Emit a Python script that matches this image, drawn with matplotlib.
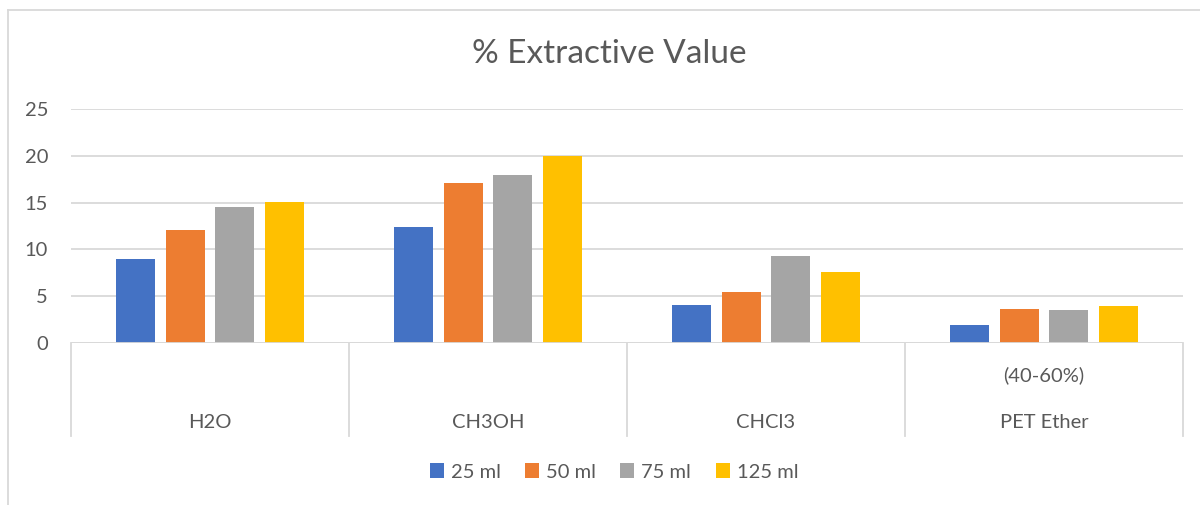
import numpy as np
import matplotlib
matplotlib.use("Agg")
import matplotlib.pyplot as plt
from matplotlib.lines import Line2D

plt.rcParams['font.family'] = ['Lato', 'DejaVu Sans']

solvents = ["H2O", "CH3OH", "CHCl3", "PET Ether"]
sub_labels = ["", "", "", "(40-60%)"]
volumes = ["25 ml", "50 ml", "75 ml", "125 ml"]

ml_25 = [9.0, 12.4, 4.1, 1.9]
ml_50 = [12.1, 17.1, 5.5, 3.6]
ml_75 = [14.5, 17.9, 9.3, 3.5]
ml_125 = [15.1, 20.0, 7.6, 3.9]

series = [ml_25, ml_50, ml_75, ml_125]
colors = ["#4472C4", "#ED7D31", "#A5A5A5", "#FFC000"]
text_color = "#595959"
grid_color = "#D9D9D9"

fig = plt.figure(figsize=(12, 5.05), dpi=100)
ax = fig.add_axes([71/1200, 1 - 343/505, (1183 - 71)/1200, (343 - 109)/505])

x = np.arange(len(solvents))
bar_w = 0.14
step = 0.179
for i, vals in enumerate(series):
    ax.bar(x + (i - 1.5)*step, vals, bar_w, color=colors[i], label=volumes[i], zorder=3)

ax.set_xlim(-0.5, len(solvents) - 0.5)
ax.set_ylim(0, 25)
ax.set_yticks(range(0, 26, 5))
ax.set_xticks([])
ax.grid(axis="y", color=grid_color, linewidth=1.3, zorder=0)
for s in ax.spines.values():
    s.set_visible(False)
ax.tick_params(axis="y", length=0, labelsize=14.5, labelcolor=text_color, pad=16.5)

# category axis: baseline, boxes and two rows of labels
ax.axhline(0, color=grid_color, linewidth=1.3, zorder=4)
trans = ax.get_xaxis_transform()
for b in np.arange(-0.5, len(solvents), 1.0):
    ax.plot([b, b], [0, -0.397], color=grid_color, linewidth=1.3, transform=trans, clip_on=False)
for i, name in enumerate(solvents):
    ax.text(i, -0.338, name, transform=trans, ha="center", va="center",
            fontsize=14.5, color=text_color)
    if sub_labels[i]:
        ax.text(i, -0.137, sub_labels[i], transform=trans, ha="center", va="center",
                fontsize=14.5, color=text_color)

fig.text(609/1200, 1 - 54/505, "% Extractive Value", ha="center", va="center",
         fontsize=24, color=text_color)

fig.legend(loc="center", bbox_to_anchor=(614/1200, 1 - 472/505), ncol=4, frameon=False,
           fontsize=14.5, labelcolor=text_color, handlelength=0.7, handleheight=0.7,
           handletextpad=0.35, columnspacing=1.2)

# chart area border
fig.add_artist(Line2D([8/1200, 8/1200], [0, 1 - 10/505], color=grid_color, linewidth=1.3))
fig.add_artist(Line2D([8/1200, 1], [1 - 10/505, 1 - 10/505], color=grid_color, linewidth=1.3))

fig.savefig("out.png", dpi=100, facecolor="white")
